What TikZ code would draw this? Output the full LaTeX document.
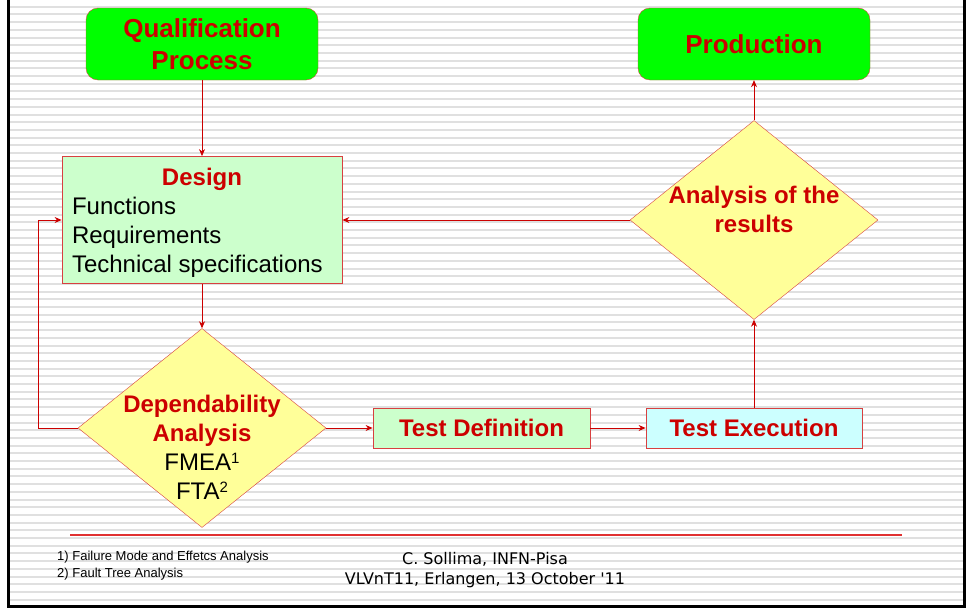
\documentclass[tikz,border=0pt]{standalone}
\usepackage{fontspec}
\setmainfont{Liberation Sans}
\newfontfamily\creditfont{DejaVu Sans}
\usetikzlibrary{shapes.geometric,arrows.meta}
\definecolor{flowred}{HTML}{CC0000}
\definecolor{boxred}{HTML}{D84040}
\definecolor{rulered}{HTML}{E03030}
\definecolor{startgreen}{HTML}{00FF00}
\definecolor{palegreen}{HTML}{CCFFCC}
\definecolor{paleyellow}{HTML}{FFFF99}
\definecolor{palecyan}{HTML}{CCFFFF}
\definecolor{stripegray}{HTML}{E0E0E0}
\newcommand{\fnmark}[1]{\raisebox{7pt}{\fontsize{15}{15}\selectfont #1}}

\begin{document}
\begin{tikzpicture}[
    x=1pt, y=-1pt,
    font=\fontsize{24}{29}\selectfont,
    stripe/.style={draw=stripegray, line width=2pt},
    link/.style={draw=flowred, line width=.8pt, -{Stealth[length=7pt,width=6pt]}},
    endbox/.style={draw=boxred, fill=startgreen, rounded corners=12pt,
        minimum width=232pt, minimum height=72pt, inner sep=0pt, align=center,
        text=flowred, font=\fontsize{26}{32}\selectfont\bfseries},
    plainbox/.style={draw=boxred, line width=.8pt, minimum width=217pt,
        minimum height=40pt, inner sep=0pt, text=flowred, font=\fontsize{24}{29}\selectfont\bfseries},
    dia/.style={diamond, draw=boxred, fill=paleyellow, minimum width=248pt,
        minimum height=199pt, inner sep=0pt},
    hot/.style={text=flowred, font=\fontsize{24}{29}\selectfont\bfseries},
    note/.style={anchor=west, inner sep=0pt, font=\fontsize{13}{15}\selectfont}
]
    \useasboundingbox (0,0) rectangle (968,613);
    % striped background
    \foreach \k in {0,...,77}
        \draw[stripe] (9,6.7+7.7*\k) -- (963,6.7+7.7*\k);
    \draw[line width=3pt] (8,0) -- (8,606.5) -- (964.5,606.5) -- (964.5,0);

    \node[endbox] (qual) at (202,44) {Qualification\\Process};
    \node[endbox] (prod) at (754,44) {Production};

    \node[draw=boxred, fill=palegreen, line width=.8pt, minimum height=127pt,
        inner xsep=10pt, inner ysep=0pt, align=left] (design) at (202,220)
        {\rule{0pt}{22pt}\makebox[260pt]{\color{flowred}\bfseries Design}\\Functions\\Requirements\\Technical specifications};

    \node[dia] (dep) at (202,428) {};
    \node[align=center, inner sep=0pt] (deptext) at (202,447)
        {{\color{flowred}\bfseries Dependability}\\{\color{flowred}\bfseries Analysis}\\FMEA\fnmark{1}\\FTA\fnmark{2}};

    \node[dia] (anal) at (754,220) {};
    \node[hot, align=center, inner sep=0pt] (analtext) at (754,209) {Analysis of the\\results};

    \node[plainbox, fill=palegreen] (testdef) at (481.5,428) {Test Definition};
    \node[plainbox, fill=palecyan, minimum width=216pt] (testexec) at (754,428) {Test Execution};

    \draw[link] (qual) -- (design);
    \draw[link] (design) -- (dep);
    \draw[link] (dep.east) -- (testdef.west);
    \draw[link] (testdef.east) -- (testexec.west);
    \draw[link] (testexec.north) -- (anal.south);
    \draw[link] (anal.north) -- (prod.south);
    \draw[link] (anal.west) -- (design.east);
    \coordinate (loop) at (38,428);
    \draw[link] (dep.west) -- (loop) |- (design.west);

    % footer
    \coordinate (rulel) at (70,535);
    \coordinate (ruler) at (902,535);
    \draw[draw=rulered, line width=1.2pt] (rulel) -- (ruler);
    \node[note] (fn1) at (57,557) {1) Failure Mode and Effetcs Analysis};
    \node[note] (fn2) at (57,574) {2) Fault Tree Analysis};
    \node[align=center, inner sep=0pt, font=\creditfont\fontsize{16}{20}\selectfont] (credit) at (485,570)
        {C. Sollima, INFN-Pisa\\VLVnT11, Erlangen, 13 October '11};
\end{tikzpicture}
\end{document}
